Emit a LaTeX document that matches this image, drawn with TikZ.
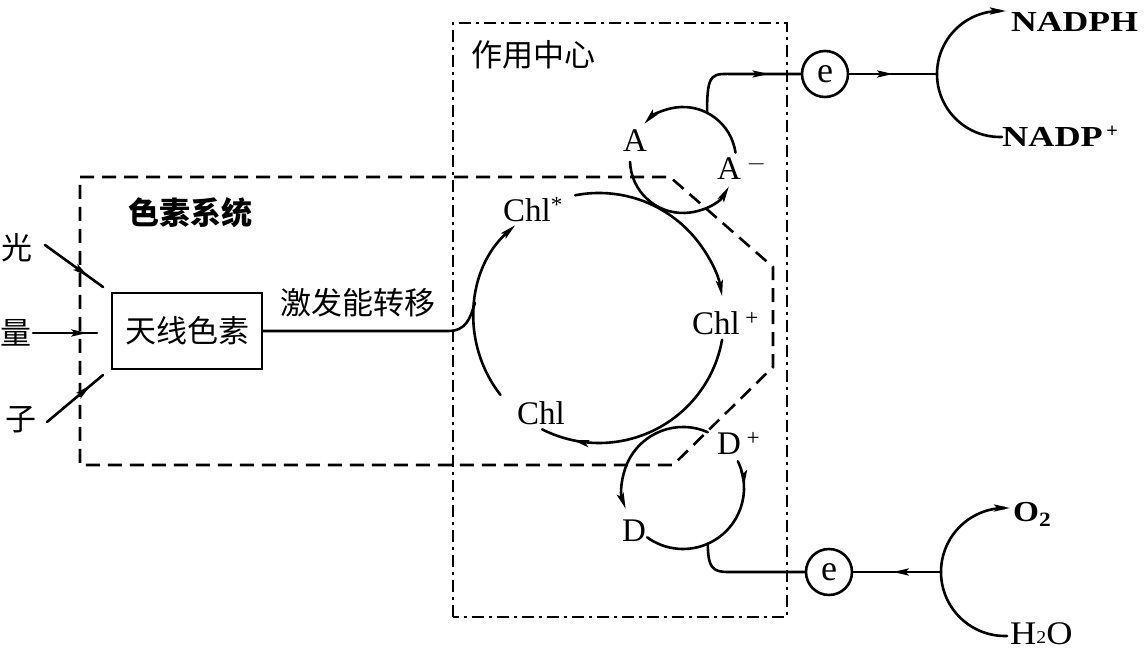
\documentclass[tikz,border=0pt]{standalone}
\usepackage{fontspec}
\usepackage{graphicx}
\setmainfont{Liberation Serif}
\newfontfamily\cjk{Noto Sans CJK SC}
\usetikzlibrary{arrows.meta,decorations.markings}
\tikzset{
  ln/.style={line width=2.6pt, line cap=round},
  tip/.style={-{Stealth[length=16pt,width=7pt,inset=3pt]}},
  midarr/.style={postaction={decorate}, decoration={markings,
     mark=at position #1 with {\arrow{Stealth[length=16pt,width=7pt,inset=3pt]}}}},
  cjklab/.style={font=\cjk\fontsize{31}{31}\selectfont, inner sep=0pt},
  cjkbold/.style={font=\cjk\bfseries\fontsize{31}{31}\selectfont, inner sep=0pt},
  lat/.style={font=\fontsize{33}{33}\selectfont, inner sep=0pt, anchor=base west},
  latb/.style={font=\bfseries\fontsize{29}{29}\selectfont, inner sep=0pt, anchor=base west},
  ecirc/.style={circle, draw, line width=2.6pt, minimum size=46pt, inner sep=0pt,
     font=\fontsize{36}{36}\selectfont},
  pigbox/.style={line width=2.6pt, dash pattern=on 14pt off 8pt},
  rcbox/.style={line width=2.4pt, dash pattern=on 12pt off 5pt on 3pt off 5pt},
  antbox/.style={draw, line width=2.6pt, minimum width=150pt, minimum height=76pt, inner sep=0pt,
     font=\cjk\fontsize{31}{31}\selectfont},
}
\begin{document}
\begin{tikzpicture}[x=1pt,y=1pt]
\useasboundingbox[fill=white] (0,0) rectangle (1144,653);

% boxes
\draw[pigbox] (80,476) -- (670,476) -- (773,386) -- (773,286) -- (673,188) -- (80,188) -- cycle;
\draw[rcbox] (453,36) rectangle (787,630);

% labels (Chinese)
\node[cjkbold] (pig) at (190,440) {色素系统};
\node[cjklab] (rc) at (533,598) {作用中心};
\node[cjklab] (trans) at (358,350) {激发能转移};
\node[cjklab] (g1) at (17,405) {光};
\node[cjklab] (g2) at (16,320) {量};
\node[cjklab] (g3) at (21,233) {子};
\node[antbox] (ant) at (187,322) {天线色素};

% light arrows
\coordinate (l1s) at (45,408); \coordinate (l1e) at (103,366);
\coordinate (l2s) at (33,320); \coordinate (l2e) at (97,320);
\coordinate (l3s) at (47,231); \coordinate (l3e) at (103,278);
\draw[ln, midarr=0.75] (l1s) -- (l1e);
\draw[ln, midarr=0.85] (l2s) -- (l2e);
\draw[ln, midarr=0.78] (l3s) -- (l3e);

% big Chl circle, center (599,335), r=125
\coordinate (cc) at (599,335);
\coordinate (cl) at ([shift={(173:125pt)}]cc);
\draw[ln, tip] ([shift={(218:125pt)}]cc) arc[start angle=218, end angle=132, radius=125pt];
\draw[ln, tip] ([shift={(101:125pt)}]cc) arc[start angle=101, end angle=10, radius=125pt];
\draw[ln, midarr=0.86] ([shift={(350:125pt)}]cc) arc[start angle=350, end angle=243, radius=125pt];
\draw[ln] (ant.east) -- (448,322) .. controls (466,322) and (470,334) .. (cl);

\node[lat] (chls) at (503,431) {Chl\textsuperscript{*}};
\node[lat] (chlp) at (692,318) {Chl\,\textsuperscript{+}};
\node[lat] (chl) at (517,228) {Chl};

% A circle, center (683,493), r=53
\coordinate (ac) at (683,493);
\coordinate (ab) at ([shift={(63:53pt)}]ac);
\draw[ln, tip] ([shift={(8:53pt)}]ac) arc[start angle=8, end angle=137, radius=53pt];
\draw[ln, tip] ([shift={(182:53pt)}]ac) arc[start angle=182, end angle=330, radius=53pt];
\node[lat] (A) at (623,501) {A};
\node[lat] (Am) at (717,473) {A\,\textsuperscript{$-$}};

% D circle, center (683,165), r=61
\coordinate (dc) at (683,165);
\coordinate (db) at ([shift={(-66:61pt)}]dc);
\draw[ln, tip] ([shift={(66:61pt)}]dc) arc[start angle=66, end angle=200, radius=61pt];
\draw[ln, midarr=0.16] ([shift={(26:61pt)}]dc) arc[start angle=26, end angle=-126, radius=61pt];
\node[lat] (Dp) at (717,198) {D\,\textsuperscript{+}};
\node[lat] (D) at (622,111) {D};

% electron carriers
\node[ecirc] (e1) at (825,579) {e};
\node[ecirc] (e2) at (829,81) {e};
\draw[ln, postaction={decorate}, decoration={markings,
   mark=at position -32pt with {\arrow{Stealth[length=16pt,width=7pt,inset=3pt]}}}]
   (ab) .. controls (707,582) and (712,579) .. (735,579) -- (e1.west);
\draw[ln] (db) .. controls (708,86) and (712,81) .. (728,81) -- (e2.west);

% NADP side, center (1000,579), r=63
\coordinate (j1) at (937,579);
\coordinate (n1) at (1006,642);
\coordinate (n2) at (1002,516);
\draw[ln, midarr=0.5] (e1.east) -- (j1);
\draw[ln, tip] (n2) -- (1000,516) arc[start angle=270, end angle=90, radius=63pt] -- (n1);
\node[latb] (nadph) at (1011,621) {\scalebox{1.23}[1]{NADPH}};
\node[latb] (nadp) at (1002,506) {\scalebox{1.25}[1]{NADP}\textsuperscript{\,+}};

% water side, center (1005,81), r=64
\coordinate (j2) at (941,81);
\coordinate (o1) at (1010,145);
\coordinate (h1) at (1007,17);
\draw[ln, midarr=0.55] (j2) -- (e2.east);
\draw[ln, tip] (h1) -- (1005,17) arc[start angle=270, end angle=90, radius=64pt] -- (o1);
\node[latb] (o2) at (1013,131) {\scalebox{1.15}[1]{O\textsubscript{2}}};
\node[lat] (h2o) at (1010,8) {\scalebox{1.1}[1]{H\raisebox{1pt}{\fontsize{18}{18}\selectfont 2}O}};
\end{tikzpicture}
\end{document}
